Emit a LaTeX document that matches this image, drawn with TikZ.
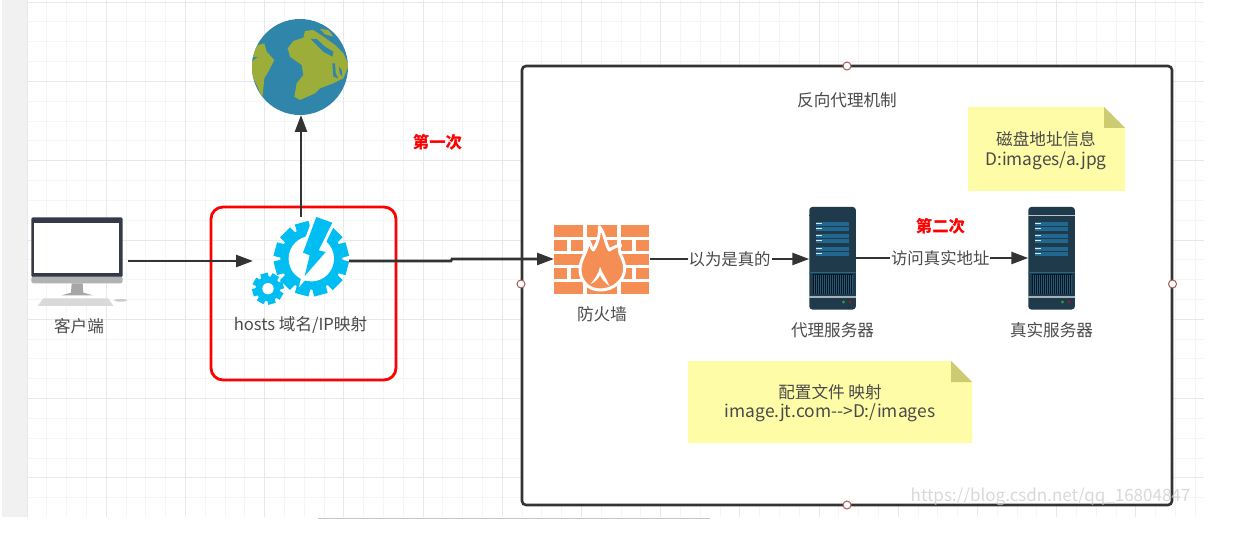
\documentclass[tikz,border=0pt]{standalone}
\usepackage{fontspec}
\setmainfont{Noto Sans CJK SC}
\usetikzlibrary{arrows.meta}
\definecolor{inkc}{HTML}{333333}
\definecolor{textc}{HTML}{4A4A4A}
\definecolor{gridminor}{HTML}{F5F5F5}
\definecolor{gridmajor}{HTML}{E8E8E8}
\definecolor{panelc}{HTML}{F1F1F1}
\definecolor{notec}{HTML}{FFFCA8}
\definecolor{foldc}{HTML}{CDCB72}
\definecolor{gearc}{HTML}{00BEF2}
\definecolor{seac}{HTML}{3085AB}
\definecolor{landc}{HTML}{9CAD39}
\definecolor{brickc}{HTML}{F58E55}
\definecolor{srvc}{HTML}{1E3A4B}
\definecolor{srvbar}{HTML}{22678F}
\definecolor{dotc}{HTML}{A65A5A}
\definecolor{monc}{HTML}{363A48}
\tikzset{
  zc/.style={x=0.33333pt,y=-0.33333pt},
  lbl/.style={font=\fontsize{16.6pt}{19.5pt}\selectfont,text=textc,inner sep=0pt},
  redlbl/.style={font=\fontsize{16.4pt}{20pt}\selectfont\bfseries,text=red,inner sep=0pt},
  onedge/.style={font=\fontsize{16.4pt}{20pt}\selectfont,text=textc,fill=white,inner sep=1pt},
  conn/.style={draw=inkc,line width=2.6pt},
  arr/.style={conn,-{Triangle[length=17pt,width=12pt]}},
  handle/.style={circle,draw=dotc,fill=white,line width=1pt,minimum size=8pt,inner sep=0pt},
  notefill/.style={fill=notec},
}
\newcommand{\gearicon}[7]{% cx cy body out toothhalf n hole
  \pgfmathsetmacro{\gstep}{360/#6}
  \pgfmathsetmacro{\glast}{360-\gstep}
  \foreach \ga in {0,\gstep,...,\glast}{
    \fill[gearc,rotate around={\ga+15:(#1,#2)}] (#1-#5,#2-#4) rectangle (#1+#5,#2);
  }
  \fill[gearc] (#1,#2) circle[radius=#3pt];
  \fill[white] (#1,#2) circle[radius=#7pt];
}
\newcommand{\servericon}[2]{% x origin, top line colour
  \begin{scope}[shift={(#1,207)}]
    \fill[srvc,rounded corners=3pt] (0,0) rectangle (46.5,102.5);
    \draw[#2,line width=0.7pt] (0,8) -- (46.5,8);
    \foreach \by in {15,27,40}{
      \fill[srvbar] (6.7,\by) rectangle (39.8,\by+3.7);
      \fill[srvbar] (6.7,\by+4.9) rectangle (39.8,\by+8.6);
      \fill[white!85!srvbar] (6.7,\by+0.9) rectangle (13,\by+2.3);
      \fill[white!85!srvbar] (6.7,\by+5.9) rectangle (13,\by+7.3);
    }
    \draw[srvbar,line width=0.5pt] (0,65.5) -- (46.5,65.5);
    \fill[black!65!srvc] (3.3,67) rectangle (43.2,87);
    \foreach \bx in {4.5,6.5,...,42.5}{
      \draw[srvbar!70!srvc,line width=0.5pt] (\bx,67.5) -- (\bx,86.5);
    }
    \fill[white!60!srvc] (0,89) rectangle (46.5,90.5);
    \fill[green!50!black!80!white] (34.2,95) circle[radius=1.6pt];
    \fill[red!60!black!90!white] (40.8,95) circle[radius=1.6pt];
  \end{scope}
}
\begin{document}
\begin{tikzpicture}[x=1pt,y=-1pt]
\useasboundingbox (0,0) rectangle (1233,545);
% canvas
\fill[panelc] (2,0) rectangle (27,517);
\foreach \i in {0,...,59}{\draw[gridminor,line width=0.9pt] ({27+19.8*\i},0) -- ({27+19.8*\i},517);}
\foreach \i in {0,...,25}{\draw[gridminor,line width=0.9pt] (27,{2+19.83*\i}) -- (1204,{2+19.83*\i});}
\foreach \i in {0,4,...,56}{\draw[gridmajor,line width=0.9pt] ({27+19.8*\i},0) -- ({27+19.8*\i},517);}
\foreach \i in {0,4,...,24}{\draw[gridmajor,line width=0.9pt] (27,{2+19.83*\i}) -- (1204,{2+19.83*\i});}
\draw[black!22,line width=1pt] (318,518) -- (710,518);
% boxes
\node[draw=inkc,fill=white,line width=2.6pt,rounded corners=4pt,minimum width=650pt,minimum height=439pt,inner sep=0pt] (mainbox) at (847,285.5) {};
\node[draw=red,line width=2.8pt,rounded corners=12pt,minimum width=185pt,minimum height=173pt,inner sep=0pt] (redbox) at (303.5,293.5) {};
\node[handle] (h1) at (847,66) {};
\node[handle] (h2) at (521,284) {};
\node[handle] (h3) at (1172.5,284) {};
\node[handle] (h4) at (847,505) {};
% notes
\fill[notefill] (968,107) -- (1104,107) -- (1125,128) -- (1125,191) -- (968,191) -- cycle;
\fill[foldc] (1104,107) -- (1125,128) -- (1104,128) -- cycle;
\fill[notefill] (688,361) -- (951,361) -- (972,382) -- (972,443) -- (688,443) -- cycle;
\fill[foldc] (951,361) -- (972,382) -- (951,382) -- cycle;
\node[lbl,align=center] (note1) at (1046,150.5) {磁盘地址信息\\{\fontsize{17.3pt}{19.5pt}\selectfont D:images/a.jpg}};
\node[lbl,align=center] (note2) at (830,403) {配置文件 映射\\{\fontsize{17.4pt}{19.5pt}\selectfont image.jt.com-{}->D:/images}};
% globe
\node[circle,fill=seac,minimum size=96pt,inner sep=0pt,outer sep=0pt] (globe) at (300,67) {};
\begin{scope}
  \clip (300,67) circle[radius=48pt];
  \begin{scope}[shift={(245,15)},zc]
    \fill[landc] (128,100) -- (145,78) -- (175,68) -- (180,48) -- (205,45) -- (235,65) -- (270,90) -- (295,115) -- (312,150) -- (295,190) -- (265,205) -- (225,220) -- (210,235) -- (165,255) -- (148,245) -- (155,205) -- (175,180) -- (170,150) -- (135,125) -- cycle;
    \fill[landc] (225,42) -- (250,45) -- (265,65) -- (240,58) -- cycle;
    \fill[seac] (197,72) -- (215,72) -- (240,95) -- (265,110) -- (262,125) -- (235,110) -- cycle;
    \fill[seac] (262,145) -- (270,145) -- (272,175) -- (280,190) -- (265,185) -- cycle;
    \fill[seac] (282,155) -- (290,165) -- (292,185) -- (284,175) -- cycle;
    \fill[landc] (15,110) -- (40,90) -- (58,85) -- (65,110) -- (88,135) -- (70,170) -- (58,190) -- (52,250) -- (35,210) -- (15,170) -- cycle;
    \fill[seac] (15,128) -- (38,126) -- (15,142) -- cycle;
  \end{scope}
\end{scope}
% client
\node[inner sep=0pt,outer sep=0pt,minimum width=97pt,minimum height=88pt] (client) at (79.5,261) {};
\begin{scope}[zc]
  \fill[monc,rounded corners=1.5pt] (94,652) rectangle (368,832);
  \fill[white] (101,668) rectangle (358,818);
  \fill[black!30,rounded corners=1.5pt] (94,830) rectangle (368,850);
  \fill[black!35] (215,850) -- (248,850) -- (250,878) -- (278,886) -- (185,886) -- (213,878) -- cycle;
  \fill[black!15] (130,895) -- (325,895) -- (340,918) -- (113,918) -- cycle;
  \fill[black!20] (362,901) ellipse[x radius=20,y radius=4];
\end{scope}
\node[lbl] (clientlbl) at (79,326) {客户端};
% gears
\node[inner sep=0pt,outer sep=0pt,minimum width=96pt,minimum height=88pt] (gear) at (301,261) {};
\gearicon{311.3}{258.7}{31}{37.3}{7}{12}{22.7}
\gearicon{268}{288.7}{12.5}{15.7}{3.8}{8}{5.7}
\draw[white,line width=6pt,line join=miter] (316.3,217) -- (332.3,222.7) -- (318.7,250.3) -- (325.7,252) -- (304.7,276) -- (309.7,255.3) -- (303,252.7) -- cycle;
\fill[gearc] (316.3,217) -- (332.3,222.7) -- (318.7,250.3) -- (325.7,252) -- (304.7,276) -- (309.7,255.3) -- (303,252.7) -- cycle;
\node[lbl] (gearlbl) at (300.5,324.5) {hosts 域名/IP映射};
% firewall
\node[inner sep=0pt,outer sep=0pt,minimum width=96pt,minimum height=68pt] (fw) at (602,259) {};
\begin{scope}[shift={(520,190)},zc]
  \foreach \xa/\xb in {102/190,200/290,302/388}{\fill[brickc] (\xa,105) rectangle (\xb,141);}
  \foreach \xa/\xb in {102/140,152/190,200/240,250/290,302/336,348/388}{\fill[brickc] (\xa,150) rectangle (\xb,184);}
  \foreach \xa/\xb in {102/190,200/290,302/388}{\fill[brickc] (\xa,192) rectangle (\xb,226);}
  \foreach \xa/\xb in {102/140,152/190,200/240,250/290,302/336,348/388}{\fill[brickc] (\xa,234) rectangle (\xb,267);}
  \foreach \xa/\xb in {102/190,200/290,302/388}{\fill[brickc] (\xa,276) rectangle (\xb,311);}
\end{scope}
\begin{scope}[shift={(550,220)},zc]
  \draw[white,line width=3pt,fill=brickc,line join=round] (148,20) .. controls (165,40) and (165,70) .. (178,90) .. controls (185,85) and (198,78) .. (212,75) .. controls (198,95) and (224,115) .. (224,145) .. controls (224,182) and (190,210) .. (150,210) .. controls (115,210) and (90,182) .. (90,150) .. controls (90,115) and (112,100) .. (116,60) .. controls (122,75) and (125,85) .. (130,90) .. controls (140,75) and (150,50) .. (148,20) -- cycle;
  \fill[white] (150,140) .. controls (156,160) and (170,175) .. (178,198) .. controls (165,188) and (155,178) .. (150,165) .. controls (145,178) and (135,185) .. (122,192) .. controls (135,175) and (147,160) .. (150,140) -- cycle;
\end{scope}
\node[lbl] (fwlbl) at (602,314) {防火墙};
% servers
\node[inner sep=0pt,outer sep=0pt,minimum width=46.5pt,minimum height=102.5pt] (srvA) at (832.5,258) {};
\servericon{809.3}{srvc}
\node[lbl] (srvAlbl) at (832.5,330.5) {代理服务器};
\node[inner sep=0pt,outer sep=0pt,minimum width=46.5pt,minimum height=102.5pt] (srvB) at (1051.5,258) {};
\servericon{1028.3}{white!70!srvc}
\node[lbl] (srvBlbl) at (1051.5,330.5) {真实服务器};
% texts
\node[lbl] (title) at (847,100) {反向代理机制};
\node[redlbl] (first) at (437.5,142) {第一次};
\node[redlbl] (second) at (940.5,226) {第二次};
% connectors
\coordinate (jogA) at (451,261);
\coordinate (jogB) at (452,259);
\draw[arr] (client.east) -- (client.east -| gear.west);
\draw[arr] (gear.north) -- (gear.north |- globe.south);
\draw[arr] (gear.east) -- (jogA) -- (jogB) -- (fw.west);
\draw[arr] (fw.east) -- (fw.east -| srvA.west) node[onedge,pos=0.5] (e1) {以为是真的};
\draw[arr] (srvA.east) -- (srvB.west) node[onedge,pos=0.49] (e2) {访问真实地址};
% watermark
\node[text=black!20,font=\fontsize{17pt}{20pt}\selectfont,inner sep=0pt,opacity=.75] (wm) at (1050.5,497) {https://blog.csdn.net/qq\_16804847};
\end{tikzpicture}
\end{document}
